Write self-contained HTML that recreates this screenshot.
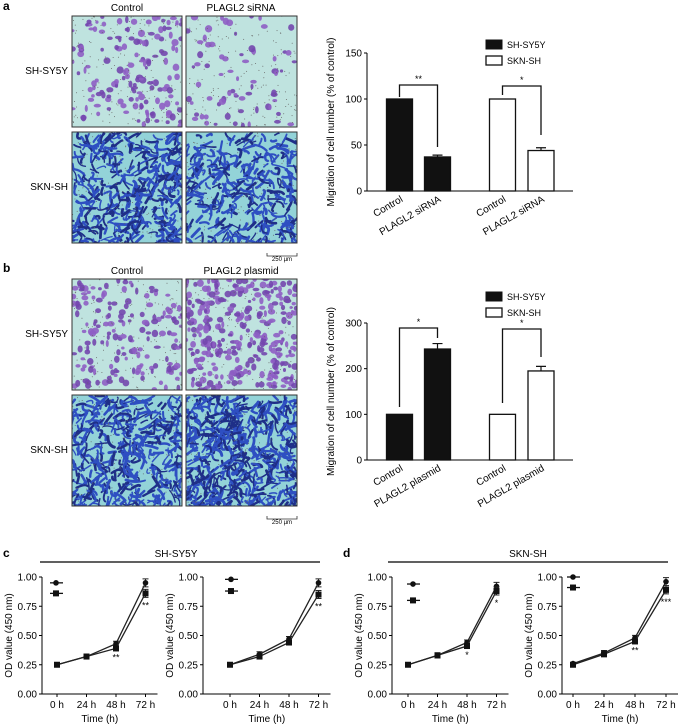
<!DOCTYPE html>
<html><head><meta charset="utf-8"><style>
html,body{margin:0;padding:0;background:#fff}
svg{display:block;font-family:"Liberation Sans",Arial,sans-serif}
</style></head><body>
<svg id="fig" width="681" height="725" viewBox="0 0 681 725" xmlns="http://www.w3.org/2000/svg">
<g id="imgs"></g>
<g id="charts"></g>
</svg>
<script>
// ---- bar chart data ----
const barCatsA = ["Control","PLAGL2 siRNA","Control","PLAGL2 siRNA"];
const barValsA = [100, 37, 100, 44];
const barErrA = [0, 2, 0, 3];
const barCatsB = ["Control","PLAGL2 plasmid","Control","PLAGL2 plasmid"];
const barValsB = [100, 243, 100, 195];
const barErrB = [0, 12, 0, 10];
const barTicksA = [0,50,100,150];
const barTicksB = [0,100,200,300];
// ---- line chart data ----
const timeLabels = ["0 h","24 h","48 h","72 h"];
const odTicks = [0.00,0.25,0.50,0.75,1.00];
const cLeftCircle = [0.25,0.32,0.43,0.95];
const cLeftSquare = [0.25,0.32,0.39,0.86];
const cRightCircle = [0.25,0.34,0.47,0.95];
const cRightSquare = [0.25,0.32,0.44,0.85];
const dLeftCircle = [0.25,0.33,0.44,0.92];
const dLeftSquare = [0.25,0.33,0.41,0.88];
const dRightCircle = [0.26,0.35,0.48,0.96];
const dRightSquare = [0.25,0.34,0.45,0.89];
const cLeftStars = ["","","**","**"];
const cRightStars = ["","","","**"];
const dLeftStars = ["","","*","*"];
const dRightStars = ["","","**","***"];

const NS="http://www.w3.org/2000/svg";
function mk(tag,attrs,parent,text){const e=document.createElementNS(NS,tag);for(const k in attrs)e.setAttribute(k,attrs[k]);if(text!==undefined)e.textContent=text;parent.appendChild(e);return e;}
const imgs=document.getElementById('imgs'), charts=document.getElementById('charts');

// ---- micrograph textures (decorative) ----
let seed=7;function rnd(){seed=(seed*16807)%2147483647;return seed/2147483647;}
function micro(x,y,w,h,kind,density,name){
  const g=mk('g',{},imgs);
  
  
  const bg = kind==='p' ? '#bfe3df' : '#93d3d8';
  mk('rect',{x:x,y:y,width:w,height:h,fill:bg},g);
  const cp='clip'+Math.floor(rnd()*1e6);
  const cl=mk('clipPath',{id:cp},g);mk('rect',{x:x,y:y,width:w,height:h},cl);
  const inner=mk('g',{'clip-path':'url(#'+cp+')'},g);
  for(let i=0;i<density;i++){
    const cx=x+rnd()*w, cy=y+rnd()*h;
    if(kind==='p'){
      mk('ellipse',{cx:cx,cy:cy,rx:1.5+rnd()*2.2,ry:1.5+rnd()*2.2,fill:rnd()<0.5?'#7347ae':'#8e5ec4',opacity:0.9},inner);
    }else{
      const a=rnd()*Math.PI,l=4+rnd()*9,b=(rnd()-0.5)*8;
      const x2=cx+Math.cos(a)*l,y2=cy+Math.sin(a)*l;
      mk('path',{d:`M${cx} ${cy}Q${(cx+x2)/2+b} ${(cy+y2)/2-b} ${x2} ${y2}`,fill:'none',stroke:rnd()<0.6?'#2e4fc2':'#1f2f88','stroke-width':1.2+rnd()*1.8,'stroke-linecap':'round'},inner);
    }
  }
  for(let i=0;i<160;i++)mk('circle',{cx:x+rnd()*w,cy:y+rnd()*h,r:0.5,fill:'#666'},inner);
  mk('rect',{x:x,y:y,width:w,height:h,fill:'none',stroke:'#333','stroke-width':1},g);
}
function imgPanel(top,labels,dens,tag){
  mk('text',{x:127,y:top-5,'font-size':10,'text-anchor':'middle'},imgs,labels[0]);
  mk('text',{x:241,y:top-5,'font-size':10,'text-anchor':'middle'},imgs,labels[1]);
  mk('text',{x:68,y:top+58,'font-size':10,'text-anchor':'end'},imgs,'SH-SY5Y');
  mk('text',{x:68,y:top+174,'font-size':10,'text-anchor':'end'},imgs,'SKN-SH');
  micro(72,top,110,111,'p',dens[0],tag+'-shsy5y-control');
  micro(186,top,111,111,'p',dens[1],tag+'-shsy5y-treated');
  micro(72,top+116,110,111,'b',dens[2],tag+'-skn-control');
  micro(186,top+116,111,111,'b',dens[3],tag+'-skn-treated');
  mk('path',{d:`M267 ${top+237}v3h30v-3`,fill:'none',stroke:'#333','stroke-width':0.8},imgs);
  mk('text',{x:282,y:top+245,'font-size':6,'text-anchor':'middle'},imgs,'250 µm');
}
imgPanel(16,['Control','PLAGL2 siRNA'],[150,70,420,340],'a');
imgPanel(279,['Control','PLAGL2 plasmid'],[170,320,420,540],'b');
mk('text',{x:3,y:10,'font-size':12,'font-weight':'bold'},charts,'a');
mk('text',{x:3,y:272,'font-size':12,'font-weight':'bold'},charts,'b');

// ---- bar charts ----
function barChart(o){
  const g=mk('g',{},charts);
  
  
  const X0=367,X1=573,y0=o.y0,ymax=o.ticks[o.ticks.length-1];
  const ys=v=>y0-v/ymax*o.h;
  const centers=[399.5,437.5,502.5,541];
  mk('line',{x1:X0,y1:ys(ymax),x2:X0,y2:y0,stroke:'#000','stroke-width':1},g);
  mk('line',{x1:X0,y1:y0,x2:X1,y2:y0,stroke:'#000','stroke-width':1},g);
  o.ticks.forEach(t=>{mk('line',{x1:X0-3,y1:ys(t),x2:X0,y2:ys(t),stroke:'#000'},g);
    mk('text',{x:X0-5,y:ys(t)+3.5,'font-size':10,'text-anchor':'end'},g,String(t));});
  mk('text',{transform:`translate(334 ${y0-o.h/2}) rotate(-90)`,'font-size':10,'text-anchor':'middle'},g,'Migration of cell number (% of control)');
  o.vals.forEach((v,i)=>{
    const b=mk('rect',{x:centers[i]-13,y:ys(v),width:26,height:y0-ys(v),fill:i<2?'#111':'#fff',stroke:'#111','stroke-width':1.3},g);
    
    
    if(o.err[i]>0){mk('path',{d:`M${centers[i]} ${ys(v)}V${ys(v+o.err[i])}M${centers[i]-5} ${ys(v+o.err[i])}h10`,stroke:'#111','stroke-width':1.2,fill:'none'},g);}
    mk('text',{transform:`translate(${centers[i]+4} ${y0+10}) rotate(-30)`,'font-size':10,'text-anchor':'end'},g,o.cats[i]);
  });
  o.brackets.forEach(br=>{
    const a=br[0],b=br[1];
    mk('path',{d:`M${centers[a]} ${br[3]}V${br[2]}H${centers[b]}V${br[4]}`,stroke:'#111','stroke-width':1.3,fill:'none'},g);
    mk('text',{x:(centers[a]+centers[b])/2,y:br[2]-3,'font-size':9,'text-anchor':'middle'},g,br[5]);
  });
  const L=o.legY;
  mk('rect',{x:486,y:L,width:16,height:9,fill:'#111',stroke:'#111'},g);
  mk('text',{x:507,y:L+8,'font-size':9},g,'SH-SY5Y');
  mk('rect',{x:486,y:L+16,width:16,height:9,fill:'#fff',stroke:'#111','stroke-width':1.3},g);
  mk('text',{x:507,y:L+24,'font-size':9},g,'SKN-SH');
}
barChart({name:'bar-chart-a',y0:191,h:138,ticks:barTicksA,vals:barValsA,err:barErrA,cats:barCatsA,legY:40,
  brackets:[[0,1,85,97,147,'**'],[2,3,86,95,135,'*']]});
barChart({name:'bar-chart-b',y0:460,h:137,ticks:barTicksB,vals:barValsB,err:barErrB,cats:barCatsB,legY:292,
  brackets:[[0,1,328,407,338,'*'],[2,3,329,403,357,'*']]});

// ---- line charts ----
function lineChart(o){
  const g=mk('g',{},charts);
  
  
  const yb=694,yt=577;
  const ys=v=>yb-v*(yb-yt);
  const xs=i=>o.x0+i*o.dx;
  mk('line',{x1:o.ax,y1:yt,x2:o.ax,y2:yb,stroke:'#000'},g);
  mk('line',{x1:o.ax,y1:yb,x2:xs(3)+12,y2:yb,stroke:'#000'},g);
  odTicks.forEach(t=>{mk('line',{x1:o.ax-3,y1:ys(t),x2:o.ax,y2:ys(t),stroke:'#000'},g);
    mk('text',{x:o.ax-5,y:ys(t)+3.5,'font-size':10,'text-anchor':'end'},g,t.toFixed(2));});
  timeLabels.forEach((t,i)=>{mk('line',{x1:xs(i),y1:yb,x2:xs(i),y2:yb+3,stroke:'#000'},g);
    mk('text',{x:xs(i),y:yb+14,'font-size':10,'text-anchor':'middle'},g,t);});
  mk('text',{x:(o.ax+xs(3)+12)/2,y:yb+28,'font-size':10,'text-anchor':'middle'},g,'Time (h)');
  mk('text',{transform:`translate(${o.ax-30} ${(yb+yt)/2}) rotate(-90)`,'font-size':10,'text-anchor':'middle'},g,'OD value (450 nm)');
  [[o.circ,'c'],[o.sq,'s']].forEach(([arr,k])=>{
    const l=mk('polyline',{points:arr.map((v,i)=>xs(i)+','+ys(v)).join(' '),fill:'none',stroke:'#222','stroke-width':1.3},g);
    
    
    arr.forEach((v,i)=>{
      const e=i===0?0:(i===3?4:2.5);
      if(e>0)mk('path',{d:`M${xs(i)} ${ys(v)-e}v${2*e}M${xs(i)-3} ${ys(v)-e}h6M${xs(i)-3} ${ys(v)+e}h6`,stroke:'#222','stroke-width':1},g);
      if(k==='c')mk('circle',{cx:xs(i),cy:ys(v),r:2.8,fill:'#111'},g);
      else mk('rect',{x:xs(i)-3,y:ys(v)-3,width:6,height:6,fill:'#111'},g);
    });
  });
  o.stars.forEach((s,i)=>{if(s)mk('text',{x:xs(i),y:ys(o.sq[i])+(i===3?15:12),'font-size':9,'text-anchor':'middle'},g,s);});
  const lx=o.ax+o.lx;
  mk('line',{x1:lx,y1:ys(o.ly[0]),x2:lx+13,y2:ys(o.ly[0]),stroke:'#111','stroke-width':1.3},g);
  mk('circle',{cx:lx+6,cy:ys(o.ly[0]),r:2.8,fill:'#111'},g);
  mk('line',{x1:lx,y1:ys(o.ly[1]),x2:lx+13,y2:ys(o.ly[1]),stroke:'#111','stroke-width':1.3},g);
  mk('rect',{x:lx+3,y:ys(o.ly[1])-3,width:6,height:6,fill:'#111'},g);
}
mk('text',{x:3,y:557,'font-size':12,'font-weight':'bold'},charts,'c');
mk('line',{x1:40,y1:562,x2:320,y2:562,stroke:'#000','stroke-width':1.2},charts);
mk('text',{x:176,y:557,'font-size':10,'text-anchor':'middle'},charts,'SH-SY5Y');
mk('text',{x:343,y:557,'font-size':12,'font-weight':'bold'},charts,'d');
mk('line',{x1:388,y1:562,x2:668,y2:562,stroke:'#000','stroke-width':1.2},charts);
mk('text',{x:528,y:557,'font-size':10,'text-anchor':'middle'},charts,'SKN-SH');
lineChart({name:'line-chart-c-left',ax:42,x0:57,dx:29.5,circ:cLeftCircle,sq:cLeftSquare,stars:cLeftStars,lx:8,ly:[0.95,0.86]});
lineChart({name:'line-chart-c-right',ax:203,x0:230,dx:29.5,circ:cRightCircle,sq:cRightSquare,stars:cRightStars,lx:22,ly:[0.98,0.88]});
lineChart({name:'line-chart-d-left',ax:392,x0:408,dx:29.5,circ:dLeftCircle,sq:dLeftSquare,stars:dLeftStars,lx:15,ly:[0.94,0.80]});
lineChart({name:'line-chart-d-right',ax:562,x0:573,dx:31,circ:dRightCircle,sq:dRightSquare,stars:dRightStars,lx:5,ly:[1.00,0.91]});
</script>
</body></html>
